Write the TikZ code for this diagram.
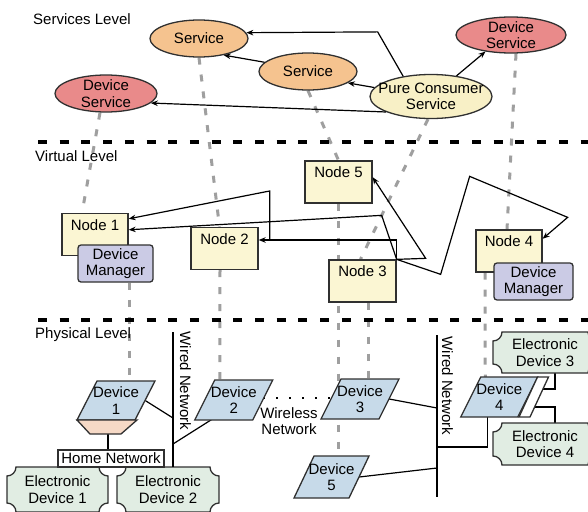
\documentclass[tikz,border=0pt]{standalone}
\usepackage{fontspec}
\setmainfont{Liberation Sans}
\usetikzlibrary{shapes.geometric,arrows.meta,calc}
\pgfdeclarelayer{background}
\pgfsetlayers{background,main}
\definecolor{svc}{HTML}{F5C38F}
\definecolor{dsvc}{HTML}{E98A8A}
\definecolor{pcs}{HTML}{F8F0C6}
\definecolor{nodef}{HTML}{FBF6D3}
\definecolor{dmf}{HTML}{CBCBE5}
\definecolor{devf}{HTML}{C7DAE9}
\definecolor{trapf}{HTML}{F6D9C6}
\definecolor{elecf}{HTML}{E1EDE3}
\definecolor{edge}{HTML}{303030}
\tikzset{
  ell/.style={ellipse, draw=edge, line width=1.3pt, inner sep=0pt,
    label={[align=center, inner sep=0pt]center:#1}},
  vbox/.style={rectangle, draw=edge, line width=1.3pt, fill=nodef, inner xsep=0pt,
    inner ysep=5pt, text height=11.5pt, text depth=20.5pt},
  dmbox/.style={rectangle, rounded corners=3pt, draw=edge, line width=1.3pt, fill=dmf,
    align=center, inner sep=0pt},
  txt/.style={inner sep=0pt},
  hnbox/.style={rectangle, draw=edge, line width=1.3pt, fill=white, inner sep=0pt},
  sepline/.style={draw=black, line width=4pt, dash pattern=on 9pt off 12.7pt},
  gdash/.style={draw=gray!75, line width=3pt, dash pattern=on 7pt off 10pt},
  conn/.style={draw=black, line width=1.2pt},
  arr/.style={conn, -{Stealth[length=7pt,width=5.5pt]}},
  wless/.style={draw=black, line width=1.6pt, dash pattern=on 1.6pt off 11.5pt},
  devshape/.style={fill=devf, draw=edge, line width=1.3pt},
  elecshape/.style={fill=elecf, draw=edge, line width=1.3pt},
}
\newcommand\devpara[6]{%
  \filldraw[devshape] ({#2-#4/2+10},{#3-#5/2}) -- ({#2+#4/2+10},{#3-#5/2}) --
    ({#2+#4/2-10},{#3+#5/2}) -- ({#2-#4/2-10},{#3+#5/2}) -- cycle;
  \node[txt, align=center, minimum width=#4pt, minimum height=#5pt] (#1) at (#2,#3) {#6};
}
\newcommand\elecdev[6]{%
  \filldraw[elecshape] (#2+9,#3) -- (#4-9,#3) arc[start angle=180,end angle=90,radius=9]
    -- (#4,#5-9) arc[start angle=270,end angle=180,radius=9]
    -- (#2+9,#5) arc[start angle=0,end angle=-90,radius=9]
    -- (#2,#3+9) arc[start angle=90,end angle=0,radius=9] -- cycle;
  \node[txt, align=center, minimum width={(#4-#2)*1pt}, minimum height={(#5-#3)*1pt}]
    (#1) at ({(#2+#4)/2},{(#3+#5)/2}) {#6};
}
\begin{document}
\begin{tikzpicture}[x=1pt, y=-1pt, font=\fontsize{15pt}{16.5pt}\selectfont]
\useasboundingbox (0,0) rectangle (588,511);

% level labels and separators
\node[txt, anchor=west] (lsv) at (33,19) {Services Level};
\node[txt, anchor=west] (lvi) at (35,156) {Virtual Level};
\node[txt, anchor=west] (lph) at (35,335) {Physical Level};
\draw[sepline] (38,142) -- (588,142);
\draw[sepline] (38,320) -- (588,320);

% services
\node[ell={Service}, fill=svc, minimum width=98pt, minimum height=37pt] (s1) at (199,38.5) {};
\node[ell={Service}, fill=svc, minimum width=98pt, minimum height=37pt] (s2) at (308,71.5) {};
\node[ell={Device\\Service}, fill=dsvc, minimum width=102pt, minimum height=37pt] (dsl) at (106,93.5) {};
\node[ell={Device\\Service}, fill=dsvc, minimum width=110pt, minimum height=36pt] (dsr) at (511,35) {};
\node[ell={Pure Consumer\\Service}, fill=pcs, minimum width=122pt, minimum height=44pt] (pc) at (431,96.5) {};

% virtual nodes
\node[vbox, minimum width=66pt] (n1) at (95,234.5) {Node 1};
\node[dmbox, minimum width=75pt, minimum height=37pt] (dm1) at (115.5,263.5) {Device\\Manager};
\node[vbox, minimum width=67pt] (n2) at (224.5,248.5) {Node 2};
\node[vbox, minimum width=67pt] (n5) at (338.5,182) {Node 5};
\node[vbox, minimum width=67pt] (n3) at (362.5,281) {Node 3};
\node[vbox, minimum width=66pt] (n4) at (509,251) {Node 4};
\node[dmbox, minimum width=79pt, minimum height=37pt] (dm4) at (533.5,281.5) {Device\\Manager};

% physical devices
\devpara{d1}{116}{400.5}{58}{39}{Device\\1}
\filldraw[fill=trapf, draw=edge, line width=1.3pt] (77,420) -- (137,420) -- (121,434) -- (90,434) -- cycle;
\devpara{d2}{233.75}{400}{58}{40}{Device\\2}
\devpara{d3}{360}{399}{58}{40}{Device\\3}
\devpara{d4}{499.25}{397}{57}{40}{Device\\4}
\filldraw[fill=white, draw=edge, line width=1.3pt] (537.5,377) -- (548.5,377) -- (530,417) -- (519,417) -- cycle;
\node[txt, minimum width=11pt, minimum height=40pt] (d4s) at (533.75,397) {};
\devpara{d5}{331.5}{477}{55}{42}{Device\\5}

\elecdev{ed1}{7}{467}{108}{512}{Electronic\\Device 1}
\elecdev{ed2}{117}{467}{219}{512}{Electronic\\Device 2}
\elecdev{ed3}{493}{332}{597}{373}{Electronic\\Device 3}
\elecdev{ed4}{493}{423}{597}{465}{Electronic\\Device 4}
\node[hnbox, minimum width=106pt, minimum height=17pt] (hn) at (111,458.5) {Home Network};

% wired networks
\coordinate (w1t) at (173,332);
\coordinate (w1b) at (173,467);
\coordinate (w1a) at (173,418);
\coordinate (w1c) at (173,444);
\coordinate (w2t) at (437,335);
\coordinate (w2b) at (437,497);
\coordinate (w2a) at (437,408);
\coordinate (w2c) at (437,447);
\coordinate (w2d) at (437,468);
\draw[conn] (w1t) -- (w1b);
\draw[conn] (w2t) -- (w2b);
\node[txt, rotate=-90] (wn1) at (185.5,381) {Wired Network};
\node[txt, rotate=-90] (wn2) at (447.5,386) {Wired Network};
\node[txt, align=center] (wl) at (289,421) {Wireless\\Network};

\begin{pgfonlayer}{background}
  % gray mapping lines
  \draw[gdash] ($(dsl.south)+(-6,0)$) -- ($(n1.north)+(-13,0)$);
  \draw[gdash] (s1.south) -- ($(n2.north)+(-5,0)$);
  \draw[gdash] (s2.south) -- (n5.north);
  \draw[gdash] ($(pc.south)+(-3,0)$) -- ($(n3.north)+(-2,0)$);
  \draw[gdash] ($(dsr.south)+(5,0)$) -- ($(n4.north)+(-2,0)$);
  \draw[gdash] ($(dm1.south)+(13.5,0)$) -- ($(d1.north)+(13,0)$);
  \draw[gdash] ($(n2.south)+(-4.5,0)$) -- ($(d2.north)+(-14,0)$);
  \draw[gdash] (n5.south) -- ($(d5.north)+(7,0)$);
  \draw[gdash] ($(n3.south)+(5.5,0)$) -- ($(d3.north)+(8,0)$);
  \draw[gdash] ($(n4.south)+(-24,0)$) -- ($(d4.north)+(-14,0)$);
  % physical connectors
  \draw[conn] (d1.east) -- (w1a);
  \draw[conn] ($(d2.south)+(-20,-2)$) -- (w1c);
  \draw[conn] (d3.east) -- (w2a);
  \draw[conn] (d5.east) -- (w2d);
  \draw[conn] ($(d4.south)+(-12,0)$) |- (w2c);
  \draw[conn] ($(d4s.east)+(3,-8)$) -| ($(ed3.south)+(10,0)$);
  \draw[conn] ($(d4s.east)+(-4,10)$) -| ($(ed4.north)+(10,0)$);
  \draw[conn] ($(hn.north)+(-3,0)$) -- ++(0,-16);
  \draw[wless] ($(d2.east)+(0,-2)$) -- ($(d3.west)+(0,-1)$);
\end{pgfonlayer}

% service arrows
\draw[arr] (pc.144) -- ++(-25.5,-44.4) -- (s1.7);
\draw[arr] (pc.171) -- (s2.-16);
\draw[arr] (s2.168) -- (s1.-34);
\draw[arr] (pc.199) -- (dsl.-12);
\draw[arr] (pc.39) -- (dsr.213);

% virtual arrows
\coordinate (j1) at ($(n2.14)+(11,0)$);
\draw[arr] (n3.north east) |- (n2.14);
\draw[arr] (j1) -- ++(0,-49) -- (n1.25);
\draw[arr] (n3.north east) -- ++(-15,-44) -- (n1.8);
\draw[arr] (n3.north east) -- ++(29,-1) -- (n5.8);
\draw[arr] (n3.north east) -- ++(44,15) -- ++(29,-98) -- ++(98,41) -- (n4.20);
\end{tikzpicture}
\end{document}
